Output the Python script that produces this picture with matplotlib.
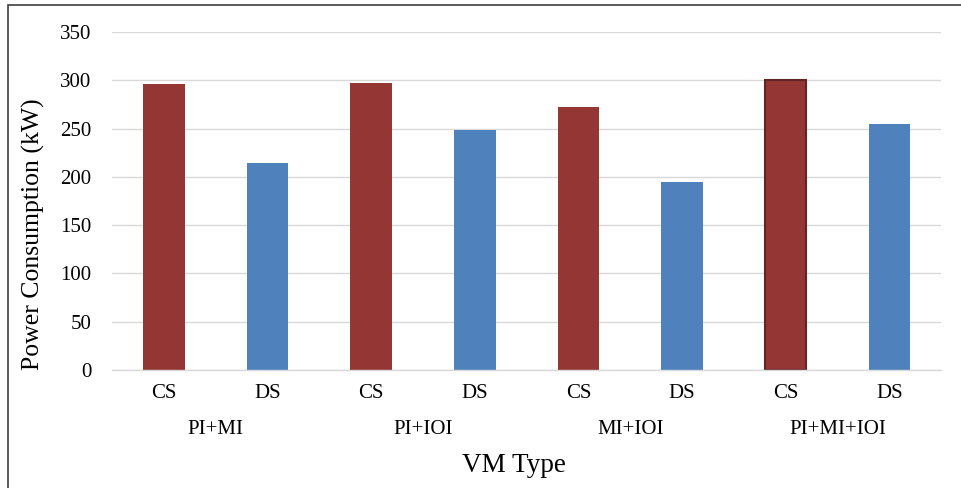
import numpy as np
import matplotlib.pyplot as plt
from matplotlib.patches import Rectangle
from matplotlib.transforms import blended_transform_factory

groups = ['PI+MI', 'PI+IOI', 'MI+IOI', 'PI+MI+IOI']
sub_labels = ['CS', 'DS']
cs_values = [296, 297, 272, 300]
ds_values = [214, 249, 195, 255]

plt.rcParams['font.family'] = ['Liberation Serif', 'DejaVu Serif']

fig = plt.figure(figsize=(9.62, 4.88), dpi=100)
ax = fig.add_axes([0.1164, 0.2418, 0.862, 0.6926])

red = '#943634'
blue = '#4F81BD'

x_cs = np.arange(len(groups)) * 2
x_ds = x_cs + 1
bars_cs = ax.bar(x_cs, cs_values, width=0.4, color=red, zorder=3)
bars_ds = ax.bar(x_ds, ds_values, width=0.4, color=blue, zorder=3)
# last CS bar is outlined in the original
bars_cs[-1].set_edgecolor('#632523')
bars_cs[-1].set_linewidth(1.5)

ax.set_xlim(-0.5, 2 * len(groups) - 0.5)
ax.set_ylim(0, 350)
ax.set_yticks(np.arange(0, 351, 50))
ax.tick_params(axis='y', length=0, labelsize=15, pad=15)

ticks = np.concatenate([x_cs, x_ds])
labels = [sub_labels[0]] * len(groups) + [sub_labels[1]] * len(groups)
ax.set_xticks(ticks)
ax.set_xticklabels(labels)
ax.tick_params(axis='x', length=0, labelsize=15, pad=10)

ax.yaxis.grid(True, color='#D9D9D9', linewidth=1, zorder=0)
for s in ['top', 'right', 'left']:
    ax.spines[s].set_visible(False)
ax.spines['bottom'].set_color('#D9D9D9')
ax.spines['bottom'].set_linewidth(1)
ax.spines['bottom'].set_zorder(4)

trans = blended_transform_factory(ax.transData, fig.transFigure)
for i, g in enumerate(groups):
    ax.text(x_cs[i] + 0.5, 1 - 430 / 488, g, transform=trans,
            ha='center', va='center', fontsize=15)

fig.text(514 / 962, 1 - 465 / 488, 'VM Type', ha='center', va='center', fontsize=19.5)
fig.text(33 / 962, 1 - 234 / 488, 'Power Consumption (kW)', ha='center', va='center',
         rotation=90, fontsize=18.5)

fig.patches.append(Rectangle((8 / 962, -0.1), 1.2, 1.1 - 5 / 488,
                             transform=fig.transFigure, fill=False,
                             edgecolor='#404040', linewidth=1.2))

fig.savefig('out.png', dpi=100)
